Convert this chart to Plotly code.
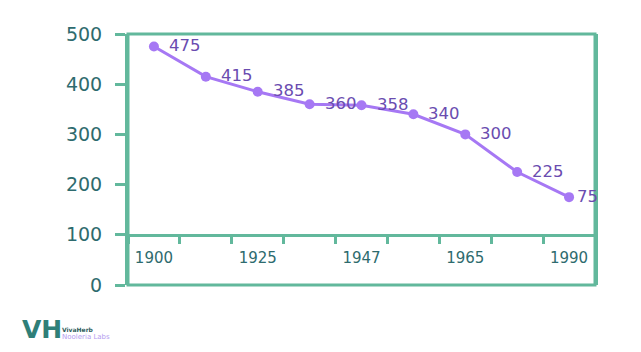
import plotly.graph_objects as go

# ---- data ----
categories = ["1900", "c2", "1925", "c4", "1947", "c6", "1965", "c8", "1990"]
tick_labels = ["1900", "", "1925", "", "1947", "", "1965", "", "1990"]
values = [475, 415, 385, 360, 358, 340, 300, 225, 175]
point_labels = ["475", "415", "385", "360", "358", "340", "300", "225", "75"]
label_shift = [13, 13, 13, 13, 13, 13, 13, 13, 6]
y_ticks = [0, 100, 200, 300, 400, 500]

GREEN = "#62b89c"
TEAL = "#2e6b6e"
PURPLE_LINE = "#a678f4"
PURPLE_TEXT = "#6a4cb0"
FONT = "DejaVu Sans"

fig = go.Figure()
fig.add_trace(go.Scatter(
    x=categories, y=values, mode="lines+markers",
    line=dict(color=PURPLE_LINE, width=3),
    marker=dict(color=PURPLE_LINE, size=10),
    cliponaxis=False, showlegend=False, hoverinfo="skip",
))

annotations = [
    dict(x=i, y=v, text=t, xref="x", yref="y", xanchor="left", yanchor="middle",
         xshift=s, yshift=1, showarrow=False,
         font=dict(family=FONT, size=16.5, color=PURPLE_TEXT))
    for i, (v, t, s) in enumerate(zip(values, point_labels, label_shift))
]
annotations += [
    dict(text="<b>VH</b>", xref="paper", yref="paper", x=-0.232, y=-0.112,
         xanchor="left", yanchor="top", showarrow=False,
         font=dict(family=FONT, size=25, color="#2f7f78")),
    dict(text="<b>VivaHerb</b>", xref="paper", yref="paper", x=-0.146, y=-0.155,
         xanchor="left", yanchor="top", showarrow=False,
         font=dict(family=FONT, size=6, color="#2e5c5c")),
    dict(text="Nooleria Labs", xref="paper", yref="paper", x=-0.146, y=-0.185,
         xanchor="left", yanchor="top", showarrow=False,
         font=dict(family=FONT, size=7, color="#b49cf0")),
]

fig.update_layout(
    width=641, height=352,
    margin=dict(l=128, r=46, t=34, b=67),
    paper_bgcolor="white", plot_bgcolor="white",
    font=dict(family=FONT),
    xaxis=dict(
        type="category", categoryorder="array", categoryarray=categories,
        range=[-0.5, len(categories) - 0.5],
        tickvals=categories, ticktext=tick_labels,
        tickson="boundaries", ticks="outside", ticklen=7, tickwidth=3,
        tickcolor=GREEN, showline=True, linecolor=GREEN, linewidth=3,
        showgrid=False, zeroline=False,
        anchor="free", position=0.2,
        tickfont=dict(family=FONT, size=15, color=TEAL),
        ticklabelstandoff=8,
    ),
    yaxis=dict(
        range=[0, 500], tickvals=y_ticks,
        ticks="outside", ticklen=10, tickwidth=3, tickcolor=GREEN,
        showline=True, mirror=True, linecolor=GREEN, linewidth=3,
        showgrid=False, zeroline=False,
        tickfont=dict(family=FONT, size=19, color=TEAL),
        ticklabelstandoff=9,
    ),
    shapes=[dict(type="rect", xref="paper", yref="paper", x0=0, x1=1, y0=0, y1=1,
                 line=dict(color=GREEN, width=3), layer="below")],
    annotations=annotations,
)

fig.write_html("out.html")
